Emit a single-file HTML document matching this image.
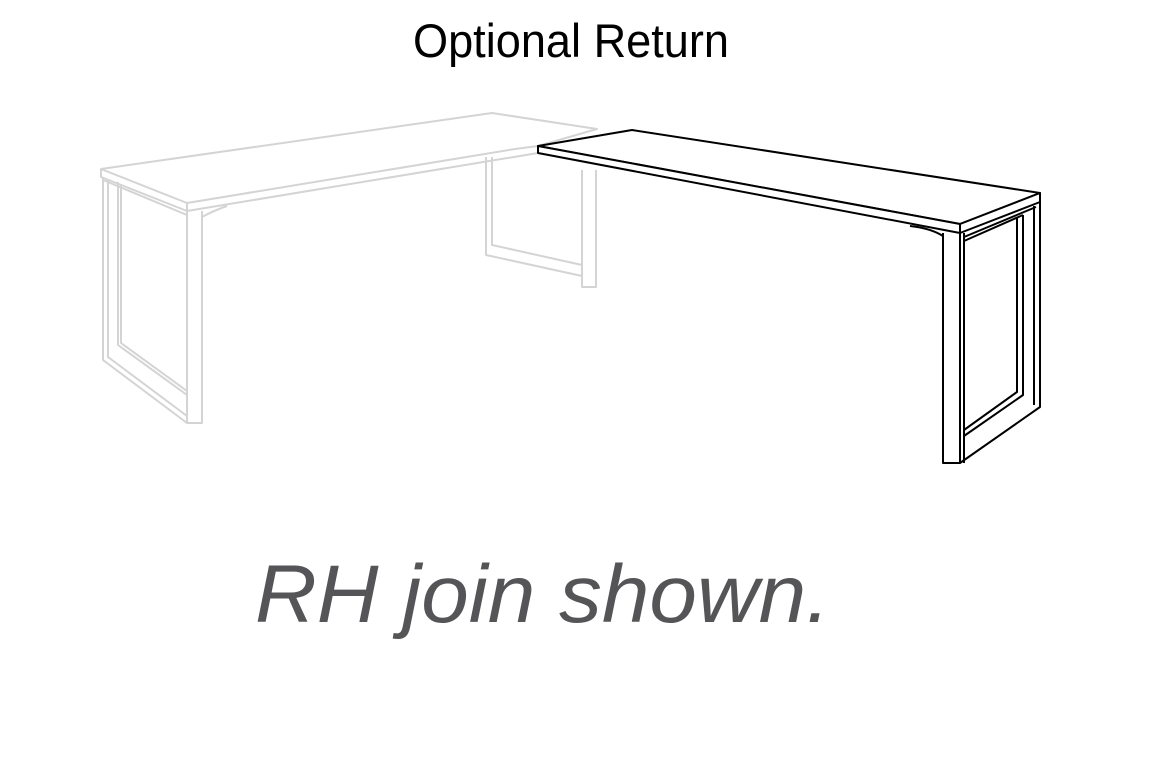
<!DOCTYPE html>
<html><head><meta charset="utf-8"><style>
html,body{margin:0;padding:0;background:#fff;}
svg{display:block}
</style></head><body>
<svg width="1164" height="771" viewBox="0 0 1164 771" xmlns="http://www.w3.org/2000/svg">
<text x="413" y="57" font-family="Liberation Sans, sans-serif" font-size="47" fill="#000" textLength="316" lengthAdjust="spacingAndGlyphs">Optional Return</text>

<!-- gray desk -->
<g fill="none" stroke="#d4d4d4" stroke-width="2" stroke-linejoin="round">
  <polygon points="101,169 492,113 597,129 538,146 515,149 187,203"/>
  <polyline points="101,169 101,177 187,211 187,203"/>
  <line x1="187" y1="211" x2="538" y2="153"/>
  <!-- left leg -->
  <polyline points="187,211 187,423 202,423 202,211"/>
  <polyline points="103,177 103,360 187,423"/>
  <polyline points="108,180 108,357 187,416"/>
  <polyline points="118,182 118,345 187,395"/>
  <polyline points="121,184 121,343 187,391"/>
  <line x1="103" y1="180" x2="187" y2="215"/>
  <path d="M202,217 Q215,210 227,206"/>
  <!-- middle leg -->
  <polyline points="486,157 486,255 582,276"/>
  <polyline points="492,157 492,245 582,265 582,170"/>
  <polyline points="582,170 582,287 596,287 596,170"/>
</g>

<!-- black return -->
<g fill="#fff" stroke="#000" stroke-width="2" stroke-linejoin="round">
  <polygon points="538,146 632,130 1040,193 960,224"/>
  <polygon points="538,146 960,224 960,233 538,153"/>
  <polygon points="960,224 1040,193 1040,202 960,233"/>
</g>
<g fill="none" stroke="#000" stroke-width="2" stroke-linejoin="round">
  <polyline points="943,233 943,463 960,463 960,233"/>
  <polyline points="964,233 964,463"/>
  <polyline points="1040,202 1040,407 960,463"/>
  <polyline points="1034,206 1034,405"/>
  <polyline points="1017,217 1017,392 964,430"/>
  <polyline points="1023,215 1023,395 964,436"/>
  <line x1="964" y1="237" x2="1036" y2="207"/>
  <line x1="964" y1="241" x2="1023" y2="215"/>
  <path d="M943,236 Q930,228 910,226"/>
</g>

<text x="255" y="622" font-family="Liberation Sans, sans-serif" font-style="italic" font-size="82" fill="#555558" textLength="575" lengthAdjust="spacingAndGlyphs">RH join shown.</text>
</svg>
</body></html>
